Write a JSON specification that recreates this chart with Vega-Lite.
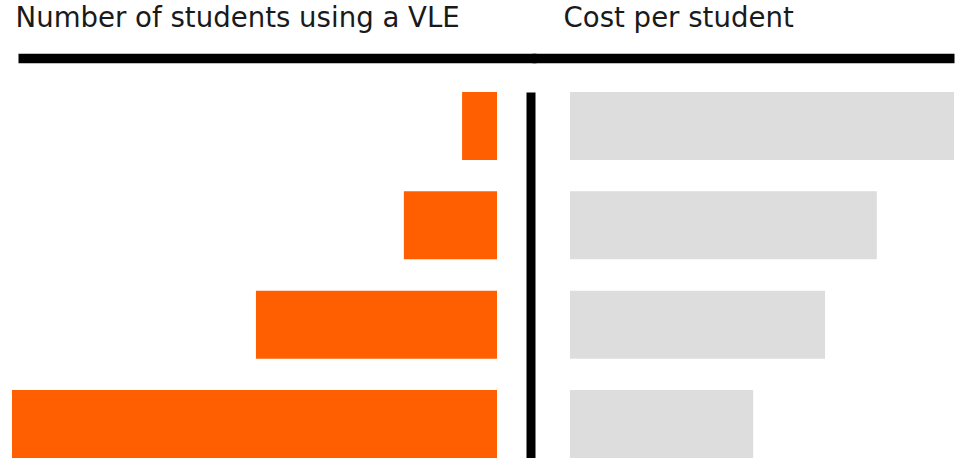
{
  "$schema": "https://vega.github.io/schema/vega-lite/v6.json",
  "width": 963,
  "height": 458,
  "autosize": "none",
  "padding": 0,
  "background": "white",
  "config": {"view": {"stroke": null}},
  "data": {"values": [
    {"group": "Group 1", "students": 7.2, "cost": 100},
    {"group": "Group 2", "students": 19.2, "cost": 79.9},
    {"group": "Group 3", "students": 49.7, "cost": 66.4},
    {"group": "Group 4", "students": 100, "cost": 47.7}
  ]},
  "encoding": {
    "y": {
      "field": "group",
      "type": "nominal",
      "sort": null,
      "scale": {"range": [92, 458], "paddingInner": 0.3154, "paddingOuter": 0},
      "axis": {
        "orient": "left",
        "offset": -530.5,
        "domain": true,
        "domainColor": "#000000",
        "domainWidth": 9,
        "ticks": false,
        "labels": false,
        "grid": false,
        "title": null
      }
    }
  },
  "layer": [
    {
      "mark": {"type": "bar", "color": "#ff5f00"},
      "encoding": {
        "x": {
          "field": "students",
          "type": "quantitative",
          "scale": {"domain": [-8.04, 98.76], "range": [536, 18], "nice": false, "zero": false},
          "axis": {
            "orient": "top",
            "offset": -58,
            "domain": true,
            "domainColor": "#000000",
            "domainWidth": 9.5,
            "ticks": false,
            "labels": false,
            "grid": false,
            "title": "Number of students using a VLE",
            "titleX": 15,
            "titleY": -31.3,
            "titleAlign": "left",
            "titleBaseline": "alphabetic",
            "titleAngle": 0,
            "titleFont": "DejaVu Sans",
            "titleFontSize": 27.6,
            "titleFontWeight": "normal",
            "titleColor": "#1a1a1a"
          }
        }
      }
    },
    {
      "mark": {"type": "bar", "color": "#dddddd"},
      "encoding": {
        "x": {
          "field": "cost",
          "type": "quantitative",
          "scale": {"domain": [-9.896, 100], "range": [532, 954], "nice": false, "zero": false},
          "axis": {
            "orient": "top",
            "offset": -58,
            "domain": true,
            "domainColor": "#000000",
            "domainWidth": 9.5,
            "ticks": false,
            "labels": false,
            "grid": false,
            "title": "Cost per student",
            "titleX": 563,
            "titleY": -31.3,
            "titleAlign": "left",
            "titleBaseline": "alphabetic",
            "titleAngle": 0,
            "titleFont": "DejaVu Sans",
            "titleFontSize": 27.6,
            "titleFontWeight": "normal",
            "titleColor": "#1a1a1a"
          }
        }
      }
    }
  ],
  "resolve": {"scale": {"x": "independent"}, "axis": {"x": "independent"}}
}
